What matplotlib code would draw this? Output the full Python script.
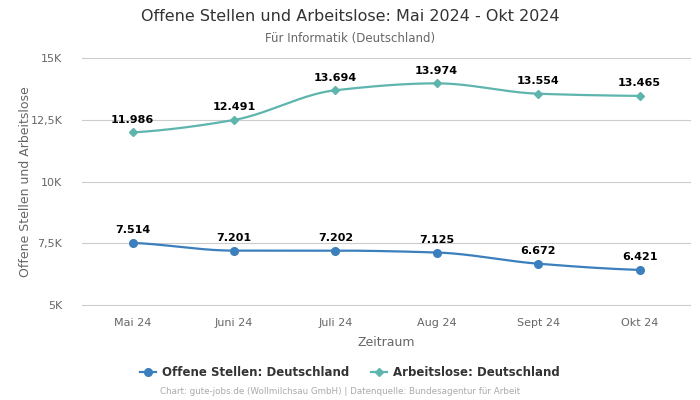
import numpy as np
import matplotlib.pyplot as plt
from matplotlib.lines import Line2D

months = ["Mai 24", "Juni 24", "Juli 24", "Aug 24", "Sept 24", "Okt 24"]
offene = [7514, 7201, 7202, 7125, 6672, 6421]
arbeitslose = [11986, 12491, 13694, 13974, 13554, 13465]

c_off = "#3b7fbd"
c_arb = "#5db5ad"


def smooth(y, n=40):
    # monotone cubic (pchip-like) so the line looks like the original spline
    x = np.arange(len(y), dtype=float)
    y = np.asarray(y, dtype=float)
    d = np.diff(y)
    m = np.zeros(len(y))
    for i in range(1, len(y) - 1):
        if d[i - 1] * d[i] > 0:
            m[i] = 2 / (1 / d[i - 1] + 1 / d[i])
    m[0] = d[0] * 0.5
    m[-1] = d[-1] * 0.5
    xs, ys = [], []
    for i in range(len(y) - 1):
        t = np.linspace(0, 1, n)
        h00 = 2 * t**3 - 3 * t**2 + 1
        h10 = t**3 - 2 * t**2 + t
        h01 = -2 * t**3 + 3 * t**2
        h11 = t**3 - t**2
        xs.append(x[i] + t)
        ys.append(h00 * y[i] + h10 * m[i] + h01 * y[i + 1] + h11 * m[i + 1])
    return np.concatenate(xs), np.concatenate(ys)


fig = plt.figure(figsize=(7, 4), dpi=100)
ax = fig.add_axes([0.117, 0.2375, 0.869, 0.6175])

x = np.arange(len(months))
sx, sy = smooth(arbeitslose)
ax.plot(sx, sy, color=c_arb, lw=1.6, zorder=3)
ax.plot(x, arbeitslose, "D", color=c_arb, ms=4, zorder=4)
sx, sy = smooth(offene)
ax.plot(sx, sy, color=c_off, lw=1.6, zorder=3)
ax.plot(x, offene, "o", color=c_off, ms=5.5, zorder=4)

for i in range(len(months)):
    ax.annotate(f"{arbeitslose[i]:,}".replace(",", "."), (x[i], arbeitslose[i]),
                xytext=(0, 7), textcoords="offset points", ha="center",
                fontsize=8, fontweight="bold", color="black")
    ax.annotate(f"{offene[i]:,}".replace(",", "."), (x[i], offene[i]),
                xytext=(0, 7), textcoords="offset points", ha="center",
                fontsize=8, fontweight="bold", color="black")

ax.set_xlim(-0.5, len(months) - 0.5)
ax.set_ylim(5000, 15000)
ax.set_yticks([5000, 7500, 10000, 12500, 15000])
ax.set_yticklabels(["5K", "7,5K", "10K", "12,5K", "15K"])
ax.set_xticks(x)
ax.set_xticklabels(months)
ax.tick_params(axis="both", length=0, labelsize=8, colors="#666666")
ax.tick_params(axis="x", pad=9)
ax.tick_params(axis="y", pad=14)
ax.grid(axis="y", color="#cccccc", lw=0.8)
for gl in ax.get_ygridlines():
    gl.set_clip_on(False)
ax.set_axisbelow(True)
for s in ax.spines.values():
    s.set_visible(False)

ax.set_xlabel("Zeitraum", fontsize=9, color="#666666", labelpad=6)
ax.set_ylabel("Offene Stellen und Arbeitslose", fontsize=9, color="#666666", labelpad=-1)

fig.text(0.5, 0.958, "Offene Stellen und Arbeitslose: Mai 2024 - Okt 2024",
         ha="center", va="center", fontsize=11.5, color="#333333")
fig.text(0.5, 0.903, "Für Informatik (Deutschland)", ha="center", va="center",
         fontsize=8.5, color="#666666")

handles = [Line2D([], [], color=c_off, marker="o", ms=5.5, lw=1.6),
           Line2D([], [], color=c_arb, marker="D", ms=4, lw=1.6)]
leg = fig.legend(handles, ["Offene Stellen: Deutschland", "Arbeitslose: Deutschland"],
                 loc="center", bbox_to_anchor=(0.5, 0.068), ncol=2, frameon=False,
                 prop={"weight": "bold", "size": 8.5}, handlelength=1.4,
                 handletextpad=0.5, columnspacing=1.8)
for t in leg.get_texts():
    t.set_color("#333333")

fig.text(0.486, 0.02, "Chart: gute-jobs.de (Wollmilchsau GmbH) | Datenquelle: Bundesagentur für Arbeit",
         ha="center", va="center", fontsize=6.3, color="#aaaaaa")

fig.savefig("out.png", dpi=100)
